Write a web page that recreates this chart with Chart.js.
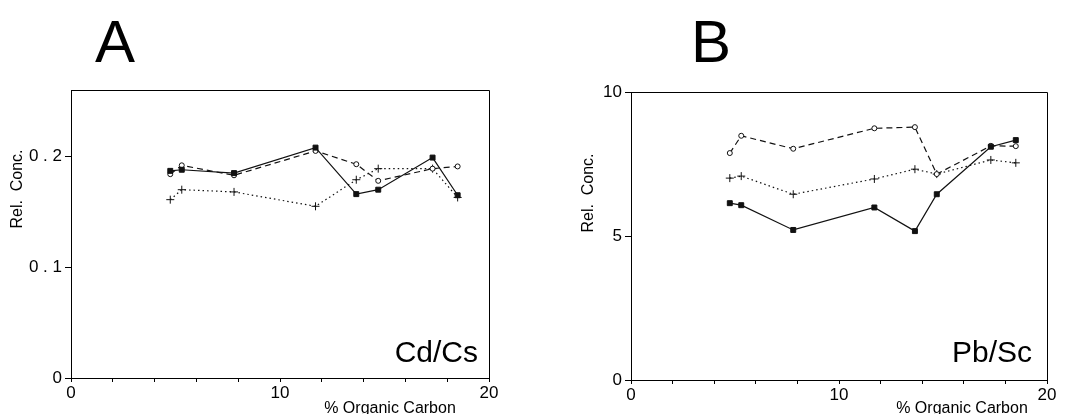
<!DOCTYPE html>
<html>
<head>
<meta charset="utf-8">
<script src="https://cdn.jsdelivr.net/npm/chart.js@4.4.0/dist/chart.umd.min.js"></script>
<style>
html, body { margin: 0; padding: 0; background: #fff; }
#wrap { position: relative; width: 1070px; height: 414px; }
.panel { position: absolute; top: 0; width: 535px; height: 414px; }
</style>
</head>
<body>
<div id="wrap">
    <div class="panel" style="left:0"><canvas id="chartA" width="535" height="414"></canvas></div>
    <div class="panel" style="left:535px"><canvas id="chartB" width="535" height="414"></canvas></div>
</div>
<script>
/** data **/
var orgCarbon = [4.75, 5.3, 7.8, 11.7, 13.65, 14.7, 17.3, 18.5];
var xTicks = [0, 2, 4, 6, 8, 10, 12, 14, 16, 18, 20];

var cdCsSolid  = [0.187, 0.188, 0.185, 0.208, 0.166, 0.170, 0.199, 0.165];
var cdCsDashed = [0.184, 0.192, 0.183, 0.205, 0.193, 0.178, 0.189, 0.191];
var cdCsDotted = [0.161, 0.170, 0.168, 0.155, 0.179, 0.189, 0.189, 0.163];
var cdCsTicks  = [0, 0.1, 0.2];

var pbScSolid  = [6.14, 6.07, 5.21, 5.99, 5.17, 6.45, 8.10, 8.33];
var pbScDashed = [7.88, 8.48, 8.03, 8.74, 8.78, 7.15, 8.13, 8.12];
var pbScDotted = [7.01, 7.08, 6.45, 6.98, 7.32, 7.15, 7.64, 7.54];
var pbScTicks  = [0, 5, 10];

var FONT = "'Liberation Sans', Arial, Helvetica, sans-serif";

function pts(xs, ys) {
    return xs.map(function (x, i) { return {x: x, y: ys[i]}; });
}

/** frame + free text **/
var panelText = {
    id: 'panelText',
    beforeDatasetsDraw: function (chart) {
        var a = chart.chartArea, ctx = chart.ctx;
        ctx.save();
        ctx.strokeStyle = '#000';
        ctx.lineWidth = 1;
        ctx.beginPath();
        ctx.moveTo(Math.round(a.left) + 0.5, Math.round(a.top) + 0.5);
        ctx.lineTo(Math.round(a.right) + 0.5, Math.round(a.top) + 0.5);
        ctx.lineTo(Math.round(a.right) + 0.5, Math.round(a.bottom));
        ctx.stroke();
        ctx.restore();
    },
    afterDraw: function (chart, args, o) {
        var ctx = chart.ctx;
        ctx.save();
        ctx.fillStyle = '#000';

        ctx.font = '60px ' + FONT;
        ctx.textAlign = 'center';
        ctx.textBaseline = 'alphabetic';
        ctx.fillText(o.title, o.titleX, 62);

        ctx.font = '30px ' + FONT;
        ctx.textAlign = 'right';
        ctx.fillText(o.label, o.labelX, 362);

        ctx.font = '16px ' + FONT;
        ctx.textAlign = 'center';
        ctx.fillText('% Organic Carbon', o.xTitleX, 413);

        ctx.translate(o.yTitleX, o.yTitleY);
        ctx.rotate(-Math.PI / 2);
        ctx.font = '16px ' + FONT;
        ctx.textBaseline = 'middle';
        ctx.fillText('Rel.  Conc.', 0, 0);
        ctx.restore();
    }
};

function series(values, kind) {
    var ds = {
        data: pts(orgCarbon, values),
        borderColor: '#111',
        borderWidth: 1.2,
        pointBorderColor: '#111',
        pointBorderWidth: 1,
        tension: 0
    };
    if (kind === 'solid') {
        ds.pointStyle = 'rect';
        ds.pointRadius = 3.5;
        ds.pointBackgroundColor = '#111';
    } else if (kind === 'dashed') {
        ds.borderDash = [6, 4];
        ds.pointStyle = 'circle';
        ds.pointRadius = 2.5;
        ds.pointBackgroundColor = '#fff';
    } else {
        ds.borderDash = [1.5, 3];
        ds.pointStyle = 'cross';
        ds.pointRadius = 4;
        ds.pointBackgroundColor = '#111';
    }
    return ds;
}

function makeChart(id, p) {
    var ctx = document.getElementById(id).getContext('2d');
    return new Chart(ctx, {
        type: 'line',
        data: {
            datasets: [
                series(p.solid, 'solid'),
                series(p.dashed, 'dashed'),
                series(p.dotted, 'dotted')
            ]
        },
        options: {
            responsive: false,
            animation: false,
            layout: {padding: {top: p.top, right: p.right, left: 0, bottom: 0}},
            plugins: {
                legend: {display: false},
                tooltip: {enabled: false},
                panelText: p.text
            },
            scales: {
                x: {
                    type: 'linear',
                    min: 0,
                    max: 20,
                    afterBuildTicks: function (s) {
                        s.ticks = xTicks.map(function (v) { return {value: v}; });
                    },
                    afterFit: function (s) { s.height = p.xHeight; },
                    ticks: {
                        autoSkip: false,
                        maxRotation: 0,
                        padding: 1,
                        color: '#000',
                        font: {family: FONT, size: 17},
                        callback: function (v) { return v % 10 === 0 ? String(v) : ''; }
                    },
                    grid: {drawOnChartArea: false, tickLength: 4, color: '#000'},
                    border: {color: '#000', width: 1}
                },
                y: {
                    type: 'linear',
                    min: 0,
                    max: p.yMax,
                    afterBuildTicks: function (s) {
                        s.ticks = p.yTicks.map(function (v) { return {value: v}; });
                    },
                    afterFit: function (s) { s.width = p.yWidth; },
                    ticks: {
                        padding: 3,
                        color: '#000',
                        font: {family: FONT, size: 17},
                        callback: p.fmt
                    },
                    grid: {drawOnChartArea: false, tickLength: 6, color: '#000'},
                    border: {color: '#000', width: 1}
                }
            }
        },
        plugins: [panelText]
    });
}

/** A: Cd/Cs **/
makeChart('chartA', {
    solid: cdCsSolid, dashed: cdCsDashed, dotted: cdCsDotted,
    yTicks: cdCsTicks, yMax: 0.26,
    top: 90, right: 46, xHeight: 36, yWidth: 71,
    fmt: function (v) { return v === 0 ? '0' : v.toFixed(1).split('').join(' '); },
    text: {title: 'A', titleX: 115, label: 'Cd/Cs', labelX: 478, xTitleX: 390, yTitleX: 18, yTitleY: 189}
});

/** B: Pb/Sc **/
makeChart('chartB', {
    solid: pbScSolid, dashed: pbScDashed, dotted: pbScDotted,
    yTicks: pbScTicks, yMax: 10,
    top: 92, right: 23, xHeight: 34, yWidth: 96,
    fmt: function (v) { return String(v); },
    text: {title: 'B', titleX: 176, label: 'Pb/Sc', labelX: 497, xTitleX: 427, yTitleX: 54, yTitleY: 193}
});
</script>
</body>
</html>
